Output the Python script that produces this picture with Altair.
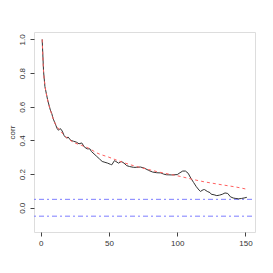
import altair as alt
import pandas as pd

# observed correlation by lag
lag_obs = [1, 2, 3, 4, 5, 6, 7, 8, 9, 10, 11, 12, 13, 14, 15, 16, 17, 18, 19, 20,
           22, 24, 26, 28, 30, 32, 34, 36, 37, 39, 41, 43, 45, 47, 49, 51, 52, 54,
           55, 57, 59, 61, 63, 65, 68, 70, 73, 76, 79, 82, 85, 88, 90, 92, 96, 100,
           102, 104, 106, 108, 110, 112, 114, 116, 117, 119, 120, 122, 124, 125,
           127, 129, 131, 133, 135, 137, 139, 141, 143, 145, 147, 149, 151]
corr_obs = [1.00, 0.81, 0.72, 0.68, 0.64, 0.61, 0.58, 0.56, 0.53, 0.51, 0.49, 0.47,
            0.46, 0.47, 0.465, 0.45, 0.43, 0.42, 0.415, 0.42, 0.40, 0.395, 0.39,
            0.38, 0.385, 0.36, 0.35, 0.35, 0.335, 0.32, 0.305, 0.29, 0.275, 0.27,
            0.265, 0.258, 0.255, 0.28, 0.275, 0.265, 0.275, 0.265, 0.25, 0.245,
            0.24, 0.24, 0.242, 0.235, 0.222, 0.212, 0.208, 0.207, 0.20, 0.196,
            0.195, 0.197, 0.208, 0.218, 0.218, 0.205, 0.175, 0.15, 0.125, 0.105,
            0.097, 0.107, 0.108, 0.097, 0.09, 0.08, 0.077, 0.072, 0.075, 0.08,
            0.088, 0.085, 0.065, 0.058, 0.055, 0.053, 0.055, 0.058, 0.062]

# fitted curve
lag_fit = [1, 2, 3, 5, 7, 10, 15, 20, 25, 30, 36, 40, 50, 60, 68, 80, 85, 100,
           118, 130, 147, 151]
corr_fit = [1.0, 0.81, 0.73, 0.64, 0.58, 0.51, 0.45, 0.41, 0.385, 0.37, 0.35,
            0.33, 0.30, 0.27, 0.25, 0.225, 0.215, 0.19, 0.157, 0.14, 0.117, 0.11]

# confidence bounds
bounds = [0.05, -0.05]

# tick labels
x_ticks = [0, 50, 100, 150]
y_ticks = [0.0, 0.2, 0.4, 0.6, 0.8, 1.0]

obs = pd.DataFrame({"lag": lag_obs, "corr": corr_obs})
fit = pd.DataFrame({"lag": lag_fit, "corr": corr_fit})
ci = pd.DataFrame({"b": bounds})

xs = alt.Scale(domain=[-5, 157], nice=False, zero=False)
ys = alt.Scale(domain=[-0.144, 1.044], nice=False, zero=False)

xaxis = alt.Axis(values=x_ticks, title=None, grid=False, domain=False,
                 tickSize=4, tickColor="#444", labelPadding=3, labelFontSize=8,
                 labelColor="#333", labelFont="Liberation Sans", labelOverlap=False)
yaxis = alt.Axis(values=y_ticks, format=".1f", title="corr",
                 grid=False, domain=False, tickSize=4, tickColor="#444",
                 labelAngle=270, labelAlign="center", labelBaseline="bottom",
                 labelPadding=4, labelFontSize=8, labelColor="#333",
                 labelFont="Liberation Sans", labelOverlap=False, labelBound=False,
                 titleFontSize=8, titleFontWeight="normal",
                 titleFont="Liberation Sans", titleColor="#333", titlePadding=2)

rules = alt.Chart(ci).mark_rule(color="#6f6fff", strokeWidth=1,
                                strokeDash=[2, 3, 5, 3], opacity=0.9).encode(
    y=alt.Y("b:Q", scale=ys, axis=yaxis, title="corr"),
    x=alt.value(0), x2=alt.value(221),
)
line = alt.Chart(obs).mark_line(color="#333", strokeWidth=1).encode(
    x=alt.X("lag:Q", scale=xs, axis=xaxis),
    y=alt.Y("corr:Q", scale=ys, axis=yaxis),
)
fitline = alt.Chart(fit).mark_line(color="#ff6060", strokeWidth=1,
                                   strokeDash=[3, 3], interpolate="monotone").encode(
    x=alt.X("lag:Q", scale=xs, axis=xaxis),
    y=alt.Y("corr:Q", scale=ys, axis=yaxis),
)

chart = alt.layer(rules, line, fitline).properties(
    width=221, height=200,
    padding={"left": 26, "top": 24, "right": 10, "bottom": 33},
    autosize=alt.AutoSizeParams(type="none"),
).configure_view(stroke="#555", strokeWidth=1).configure(background="white")

chart.save("out.html", embed_options={"renderer": "svg", "actions": False})
